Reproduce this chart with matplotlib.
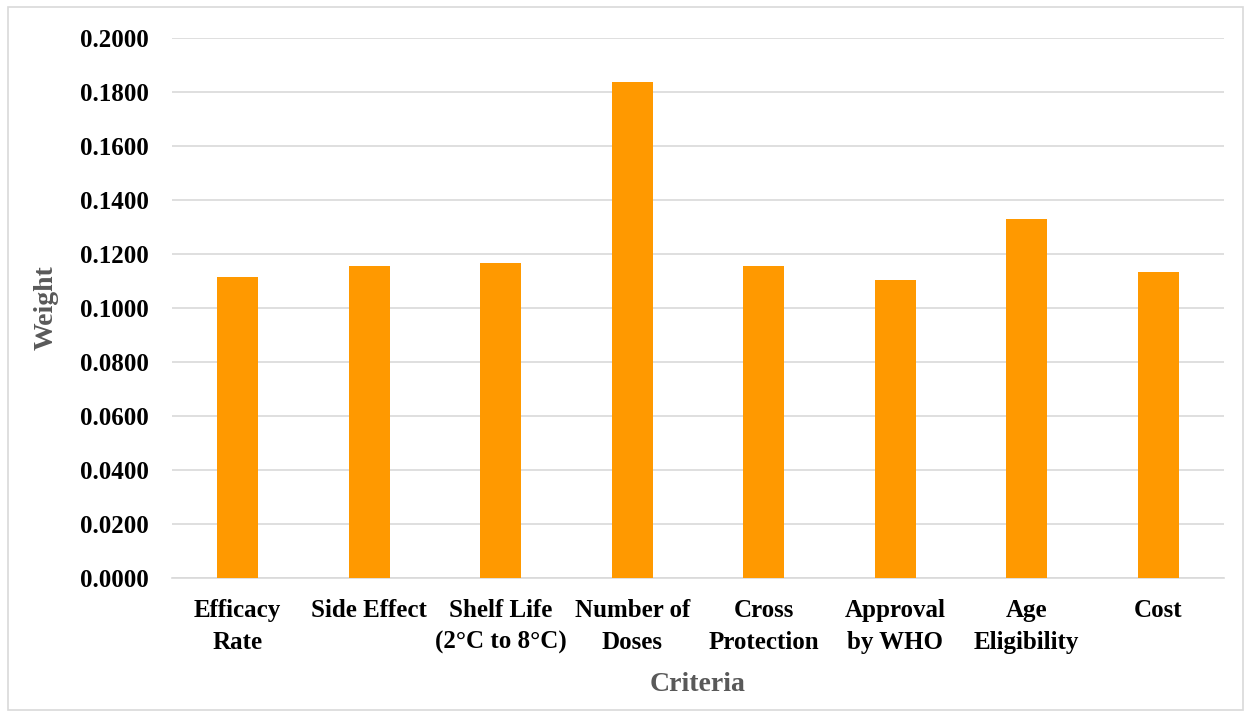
import matplotlib.pyplot as plt
from matplotlib.patches import Rectangle

# Datos
criteria = ['Efficacy\nRate', 'Side Effect', 'Shelf Life\n(2°C to 8°C)', 'Number of\nDoses',
            'Cross\nProtection', 'Approval\nby WHO', 'Age\nEligibility', 'Cost']
weights = [0.1114, 0.1155, 0.1167, 0.1837, 0.1156, 0.1104, 0.1330, 0.1132]
yticks = [i * 0.02 for i in range(11)]

plt.rcParams['font.family'] = ['Liberation Serif', 'DejaVu Serif']

fig = plt.figure(figsize=(12.49, 7.17), dpi=100)
ax = fig.add_axes([172 / 1249, 1 - 578 / 717, (1224 - 172) / 1249, (578 - 38) / 717])

# Borde exterior
fig.patches.append(Rectangle((8 / 1249, 7 / 717), 1235 / 1249, 703 / 717, transform=fig.transFigure,
                             fill=False, edgecolor='#d9d9d9', linewidth=1.2))

x = range(len(criteria))
ax.bar(x, weights, width=0.31, color='#ff9900', zorder=3)

ax.set_xlim(-0.5, len(criteria) - 0.5)
ax.set_ylim(0, 0.2)
ax.set_yticks(yticks)
ax.set_yticklabels([f'{v:.4f}' for v in yticks], fontsize=18, fontweight='bold')
ax.set_xticks(list(x))
ax.set_xticklabels(criteria, fontsize=18, fontweight='bold', linespacing=1.5)
ax.tick_params(axis='y', length=0, pad=17)
ax.tick_params(axis='x', length=0, pad=15)

ax.grid(axis='y', color='#d9d9d9', linewidth=1.2, zorder=0)
for s in ['top', 'right', 'left']:
    ax.spines[s].set_visible(False)
ax.spines['bottom'].set_color('#d9d9d9')
ax.spines['bottom'].set_linewidth(1.2)

ax.set_ylabel('Weight', fontsize=20, fontweight='bold', color='#595959', labelpad=15)
ax.set_xlabel('Criteria', fontsize=20, fontweight='bold', color='#595959', labelpad=13)

fig.savefig('out.png', dpi=100)
